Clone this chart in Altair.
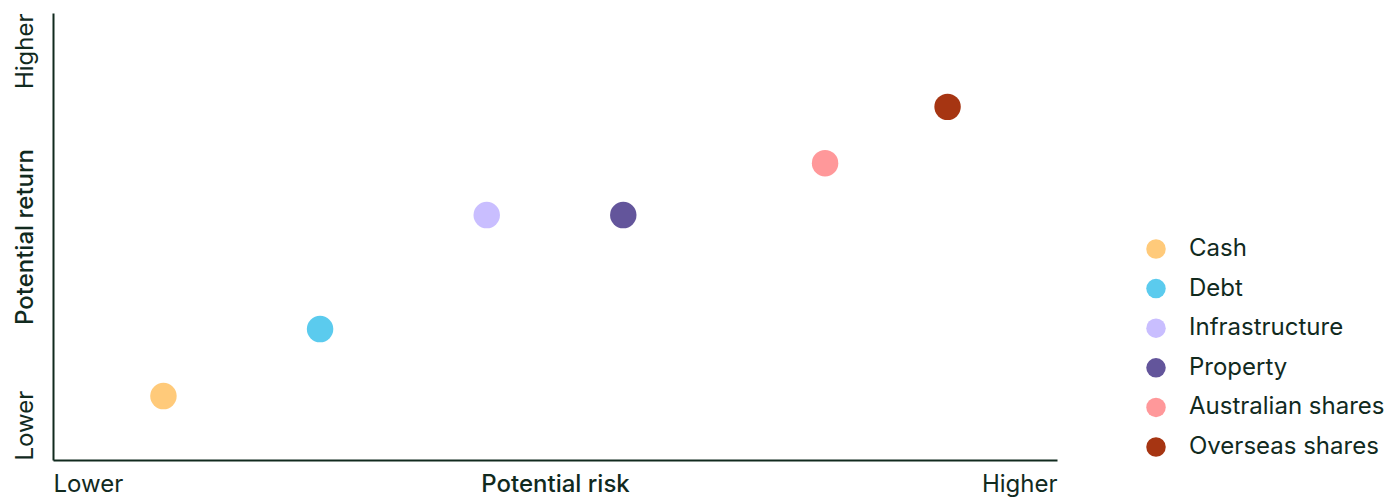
import altair as alt
import pandas as pd

categories = ["Cash", "Debt", "Infrastructure", "Property", "Australian shares", "Overseas shares"]
risk = [11, 26.6, 43.2, 56.8, 76.9, 89.1]
ret = [14.3, 29.3, 54.8, 54.8, 66.4, 79.0]
colors = ["#FFCA7A", "#5BCBEE", "#C9BEFF", "#63559B", "#FF989A", "#A63512"]
axis_values = [0, 100]

df = pd.DataFrame({"asset": categories, "risk": risk, "ret": ret})

FONT = "Inter"
INK = "#112a1e"
FS = 24

label_expr = "datum.value == 0 ? 'Lower' : 'Higher'"

chart = alt.Chart(df).mark_circle(size=700, opacity=1).encode(
    x=alt.X("risk:Q", scale=alt.Scale(domain=[0, 100], nice=False, zero=False),
            axis=alt.Axis(title="Potential risk", values=axis_values, labelExpr=label_expr,
                          grid=False, ticks=False, tickSize=0, labelFlush=True,
                          labelPadding=12, labelFontSize=FS, labelFont=FONT, labelColor=INK,
                          titleFont=FONT, titleFontSize=FS, titleFontWeight=500, titleColor=INK,
                          titleBaseline="alphabetic", titleY=31,
                          domainColor=INK, domainWidth=2)),
    y=alt.Y("ret:Q", scale=alt.Scale(domain=[0, 100], nice=False, zero=False),
            axis=alt.Axis(title="Potential return", values=axis_values, labelExpr=label_expr,
                          grid=False, ticks=False, tickSize=0, labelAngle=270,
                          labelAlign=alt.ExprRef(expr="datum.value == 0 ? 'left' : 'right'"),
                          labelBaseline="alphabetic", labelPadding=21,
                          labelFontSize=FS, labelFont=FONT, labelColor=INK,
                          titleFont=FONT, titleFontSize=FS, titleFontWeight=500, titleColor=INK,
                          titleAngle=270, titleBaseline="alphabetic", titleX=-21,
                          domainColor=INK, domainWidth=2)),
    color=alt.Color("asset:N", sort=categories,
                    scale=alt.Scale(domain=categories, range=colors),
                    legend=alt.Legend(title=None, orient="none", legendX=1091, legendY=224,
                                      symbolType="circle", symbolSize=380, symbolOpacity=1,
                                      labelFont=FONT, labelFontSize=FS, labelColor=INK,
                                      labelLimit=400, labelOffset=21, rowPadding=15.6, padding=0)),
).properties(
    width=1004, height=447,
    autosize=alt.AutoSizeParams(type="none"),
    padding={"left": 53, "top": 13, "right": 335, "bottom": 37},
).configure_view(stroke=None)

chart.save("out.html", embed_options={"renderer": "svg", "actions": False})
